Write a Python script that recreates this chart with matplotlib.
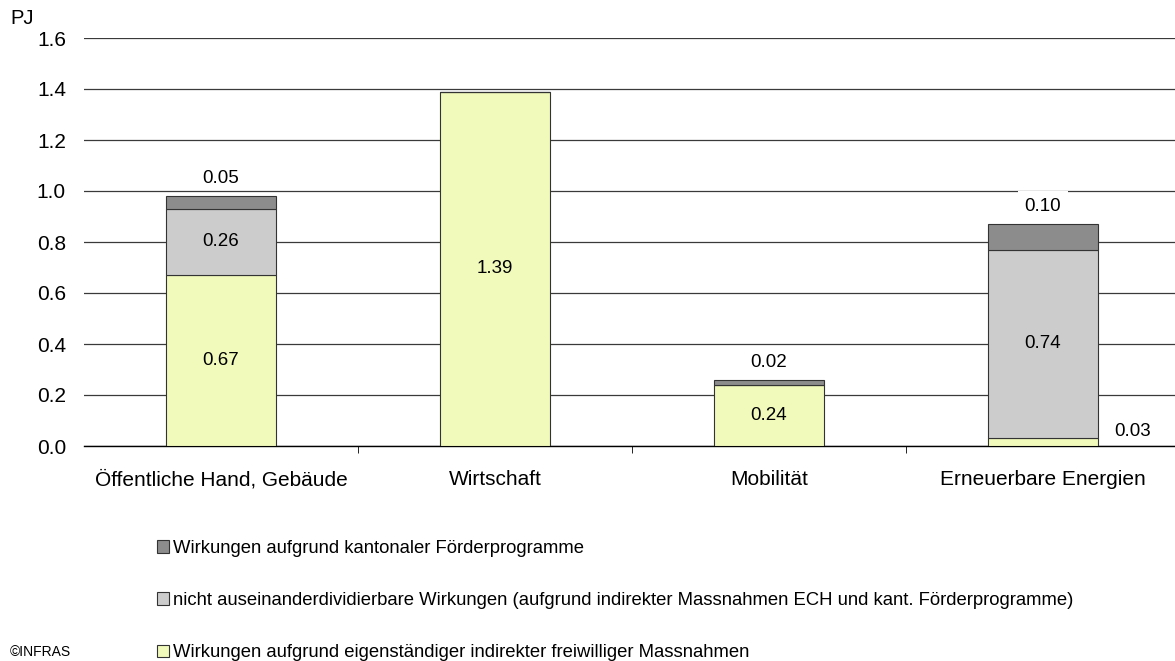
import numpy as np
import matplotlib.pyplot as plt
from matplotlib.patches import Patch

plt.rcParams['font.family'] = ['Liberation Sans', 'DejaVu Sans']

categories = ['Öffentliche Hand, Gebäude', 'Wirtschaft', 'Mobilität', 'Erneuerbare Energien']
freiwillig = np.array([0.67, 1.39, 0.24, 0.03])
nicht_trennbar = np.array([0.26, 0.0, 0.0, 0.74])
kantonal = np.array([0.05, 0.0, 0.02, 0.10])

labels = ['Wirkungen aufgrund kantonaler Förderprogramme',
          'nicht auseinanderdividierbare Wirkungen (aufgrund indirekter Massnahmen ECH und kant. Förderprogramme)',
          'Wirkungen aufgrund eigenständiger indirekter freiwilliger Massnahmen']
colors = ['#8c8c8c', '#cccccc', '#f2fabb']

fig = plt.figure(figsize=(11.75, 6.61), dpi=100)
ax = fig.add_axes([84 / 1175, 1 - 446 / 661, (1180 - 84) / 1175, 408 / 661])

x = np.arange(len(categories))
w = 0.4
ax.bar(x, freiwillig, w, color=colors[2], edgecolor='#333333', linewidth=0.8, zorder=3)
ax.bar(x, nicht_trennbar, w, bottom=freiwillig, color=colors[1], edgecolor='#333333', linewidth=0.8, zorder=3)
ax.bar(x, kantonal, w, bottom=freiwillig + nicht_trennbar, color=colors[0], edgecolor='#333333', linewidth=0.8, zorder=3)

fs = 13.5
for i in range(len(x)):
    total = freiwillig[i] + nicht_trennbar[i] + kantonal[i]
    # lower segment
    if freiwillig[i] >= 0.1:
        ax.text(x[i], freiwillig[i] / 2, f'{freiwillig[i]:.2f}', ha='center', va='center', fontsize=fs, zorder=5)
    elif freiwillig[i] > 0:
        ax.text(x[i] + w / 2 + 0.06, freiwillig[i] + 0.025, f'{freiwillig[i]:.2f}', ha='left', va='center', fontsize=fs, zorder=5)
    if nicht_trennbar[i] > 0:
        ax.text(x[i], freiwillig[i] + nicht_trennbar[i] / 2, f'{nicht_trennbar[i]:.2f}', ha='center', va='center', fontsize=fs, zorder=5)
    if kantonal[i] > 0:
        # last label has a white box that cuts the grid line above it
        pad = 5 if i == len(x) - 1 else 1
        ax.text(x[i], total + 0.035, f'{kantonal[i]:.2f}', ha='center', va='bottom', fontsize=fs, zorder=5,
                bbox=dict(facecolor='white', edgecolor='none', pad=pad))

ax.set_xlim(-0.5, 3.5)
ax.set_ylim(0, 1.6)
ax.set_yticks(np.arange(0, 1.61, 0.2))
ax.set_yticklabels([f'{v:.1f}' for v in np.arange(0, 1.61, 0.2)], fontsize=15)
ax.yaxis.grid(True, color='#3a3a3a', linewidth=0.9, zorder=0)
ax.set_axisbelow(True)
ax.tick_params(axis='y', length=0, pad=13)

ax.set_xticks(x)
ax.set_xticklabels(categories, fontsize=15)
ax.tick_params(axis='x', length=0, pad=17)
ax.set_xticks([0.5, 1.5, 2.5], minor=True)
ax.tick_params(axis='x', which='minor', length=5, direction='out', color='black')

for s in ['left', 'right', 'top']:
    ax.spines[s].set_visible(False)
ax.spines['bottom'].set_color('black')
ax.spines['bottom'].set_linewidth(1)

fig.text(10 / 1175, 1 - 18 / 661, 'PJ', fontsize=14.5, va='center', ha='left')
fig.text(10 / 1175, 1 - 652 / 661, '©INFRAS', fontsize=10, va='center', ha='left')

handles = [Patch(facecolor=c, edgecolor='#333333', linewidth=0.8) for c in colors]
fig.legend(handles, labels, loc='upper left', bbox_to_anchor=(157 / 1175, 1 - 540 / 661),
           frameon=False, fontsize=13.3, handlelength=0.65, handleheight=0.65,
           handletextpad=0.2, labelspacing=1.9, borderaxespad=0, borderpad=0)

fig.savefig('out.png', dpi=100)
